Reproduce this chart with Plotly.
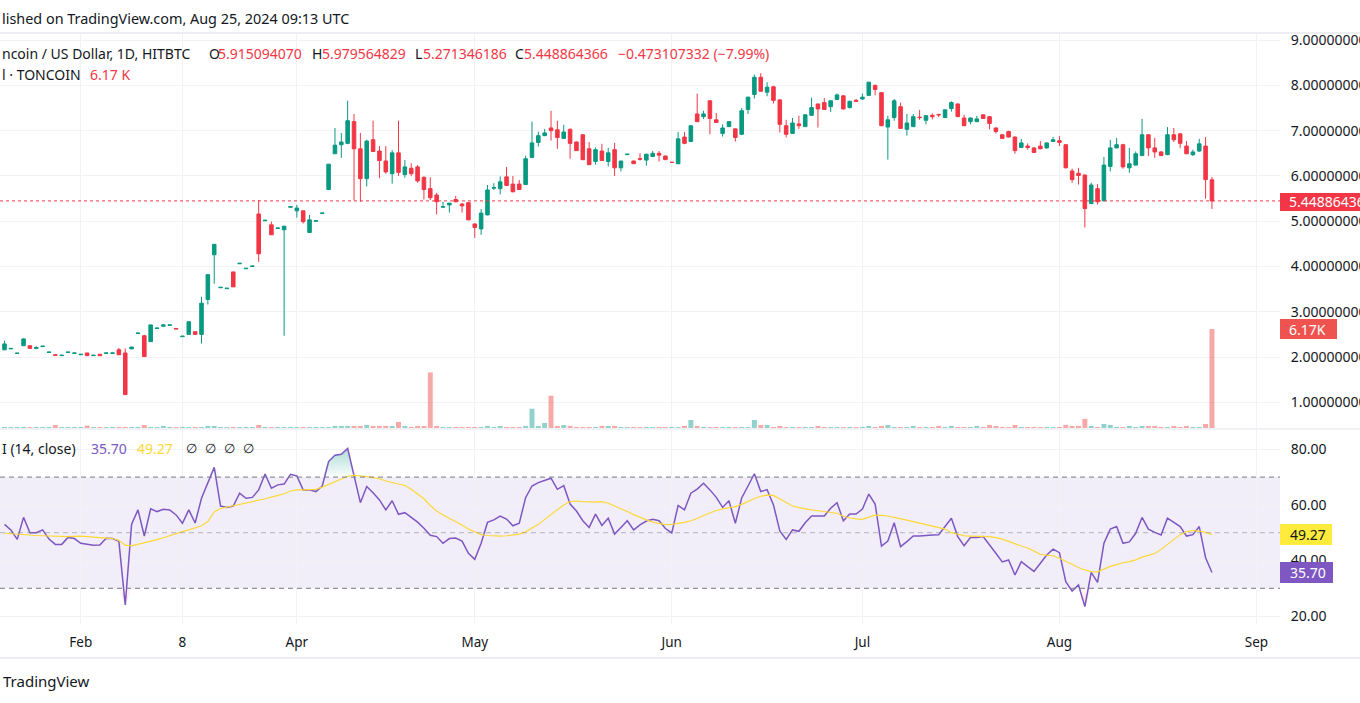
import numpy as np
import plotly.graph_objects as go

# ---------------- data ----------------
open_ = [2.16,2.18,2.08,2.25,2.25,2.19,2.23,2.10,2.05,2.03,2.10,2.08,2.05,2.09,2.03,2.06,2.08,2.08,2.16,2.09,
         2.18,2.52,2.47,2.34,2.63,2.68,2.70,2.63,2.45,2.50,2.56,2.50,3.27,4.26,3.53,3.51,3.88,4.06,3.95,4.00,
         5.16,5.01,4.92,4.84,4.81,5.31,5.23,5.23,4.75,5.00,5.17,5.70,6.49,6.69,6.72,7.20,6.60,5.94,6.80,6.55,
         6.33,6.05,6.51,6.03,6.17,6.20,5.97,5.72,5.58,5.31,5.36,5.48,5.38,5.41,4.94,4.83,5.14,5.73,5.72,5.98,
         5.82,5.82,5.81,6.41,6.74,6.89,7.06,7.02,6.83,7.03,6.75,6.91,6.60,6.32,6.55,6.32,6.58,6.18,6.47,6.33,
         6.38,6.35,6.43,6.50,6.44,6.30,6.27,6.86,6.76,7.37,7.31,7.66,7.24,6.94,7.09,7.04,6.92,7.47,7.80,8.18,
         7.85,7.97,7.68,7.11,6.94,7.15,7.09,7.34,7.59,7.62,7.53,7.69,7.77,7.51,7.67,7.70,7.78,8.00,7.84,7.08,
         7.29,7.53,7.03,7.09,7.30,7.23,7.34,7.36,7.29,7.49,7.59,7.28,7.20,7.20,7.35,7.31,7.06,6.91,6.98,6.86,
         6.63,6.66,6.62,6.66,6.62,6.76,6.78,6.69,6.11,6.06,6.02,5.39,5.72,5.45,6.21,6.62,6.69,6.18,6.24,6.45,
         6.91,6.62,6.53,6.47,6.91,6.93,6.66,6.47,6.55,6.66,5.915094070]
high = [2.36,2.20,2.09,2.41,2.25,2.24,2.24,2.11,2.05,2.04,2.11,2.09,2.06,2.09,2.04,2.07,2.09,2.09,2.20,2.19,
        2.23,2.53,2.49,2.71,2.64,2.73,2.71,2.63,2.46,2.78,2.56,3.33,3.82,4.49,3.54,3.52,3.88,4.07,3.96,4.01,
        5.47,5.03,4.99,4.85,4.89,5.33,5.36,5.23,5.14,5.01,5.19,6.26,7.06,6.95,7.66,7.37,6.95,6.80,7.22,6.66,
        6.66,6.57,7.22,6.35,6.28,6.24,5.99,5.97,5.63,5.43,5.40,5.56,5.40,5.42,4.95,5.27,5.80,5.84,5.99,6.20,
        6.00,5.91,6.45,7.20,6.98,7.04,7.44,7.22,7.13,7.05,6.76,6.92,6.75,6.63,6.71,6.62,6.73,6.33,6.49,6.34,
        6.50,6.49,6.55,6.55,6.45,6.31,6.97,6.97,7.11,7.82,7.44,7.67,7.39,7.14,7.21,7.05,7.50,7.75,8.24,8.27,
        8.07,7.99,7.70,7.24,7.28,7.33,7.36,7.73,7.60,7.72,7.67,7.82,7.78,7.66,7.70,7.82,8.08,8.02,7.85,7.33,
        7.70,7.62,7.37,7.37,7.46,7.34,7.38,7.37,7.47,7.65,7.60,7.35,7.29,7.33,7.36,7.32,7.07,6.92,7.00,6.87,
        6.82,6.72,6.63,6.77,6.74,6.86,6.88,6.70,6.16,6.18,6.03,5.85,5.82,6.42,6.80,6.84,6.71,6.62,6.54,7.26,
        6.92,6.84,6.55,7.08,7.06,6.94,6.77,6.58,6.82,6.86,5.979564829]
low = [2.15,2.18,2.07,2.25,2.19,2.19,2.23,2.10,2.04,2.03,2.10,2.08,2.05,2.03,2.03,2.03,2.08,2.08,2.05,1.17,
       2.18,2.52,2.01,2.34,2.63,2.68,2.70,2.62,2.45,2.50,2.50,2.30,3.16,3.62,3.53,3.51,3.55,4.06,3.95,4.00,
       4.10,5.01,4.70,4.84,2.47,5.31,5.08,4.95,4.75,5.00,5.17,5.70,6.49,6.40,6.70,5.46,5.43,5.77,6.54,5.95,
       6.05,5.83,6.00,5.96,6.00,5.85,5.48,5.47,5.15,5.31,5.19,5.42,5.19,5.02,4.63,4.70,5.13,5.69,5.59,5.78,
       5.64,5.69,5.80,6.39,6.65,6.88,6.78,6.60,6.82,6.38,6.55,6.35,6.24,6.25,6.33,6.21,6.00,6.10,6.47,6.27,
       6.34,6.23,6.42,6.32,6.36,6.29,6.26,6.70,6.75,7.19,7.26,6.92,7.17,6.87,7.08,6.76,6.90,7.37,7.71,7.87,
       7.76,7.60,6.96,6.85,6.93,7.04,7.08,7.33,7.07,7.46,7.41,7.68,7.47,7.49,7.64,7.68,7.77,7.78,7.10,6.36,
       7.22,7.04,6.89,7.08,7.24,7.14,7.25,7.30,7.28,7.42,7.30,7.10,7.14,7.19,7.26,7.03,6.94,6.82,6.85,6.49,
       6.62,6.58,6.51,6.59,6.60,6.75,6.66,6.17,5.85,5.81,4.86,5.38,5.37,5.44,6.10,6.61,6.16,6.07,6.23,6.44,
       6.44,6.40,6.44,6.46,6.75,6.61,6.48,6.44,6.53,5.50,5.271346186]
close = [2.29,2.19,2.085,2.40,2.19,2.21,2.24,2.11,2.04,2.04,2.11,2.09,2.06,2.03,2.04,2.03,2.09,2.09,2.05,1.17,
         2.22,2.53,2.01,2.71,2.64,2.71,2.71,2.62,2.46,2.78,2.50,3.19,3.82,4.49,3.54,3.52,3.55,4.07,3.96,4.01,
         4.28,5.02,4.70,4.85,4.89,5.32,5.29,4.99,5.03,5.01,5.18,6.26,6.68,6.75,7.22,6.60,5.94,6.77,6.54,6.34,
         6.09,6.51,6.08,6.20,6.05,5.89,5.70,5.52,5.43,5.32,5.40,5.43,5.34,5.03,4.86,5.18,5.69,5.74,5.87,5.79,
         5.65,5.70,6.38,6.73,6.89,6.95,7.00,6.85,6.97,6.72,6.56,6.36,6.25,6.58,6.34,6.51,6.18,6.33,6.48,6.27,
         6.37,6.48,6.50,6.46,6.36,6.30,6.82,6.72,7.11,7.20,7.37,7.27,7.18,7.06,7.20,6.85,7.44,7.74,8.18,7.87,
         7.96,7.67,7.14,6.92,7.17,7.11,7.35,7.51,7.48,7.47,7.66,7.79,7.48,7.65,7.65,7.74,8.07,7.91,7.11,7.24,
         7.66,7.05,7.17,7.31,7.29,7.33,7.31,7.35,7.46,7.62,7.31,7.11,7.28,7.26,7.27,7.16,6.98,6.83,6.86,6.56,
         6.73,6.63,6.52,6.60,6.73,6.80,6.74,6.18,5.92,6.01,5.28,5.80,5.43,6.24,6.62,6.69,6.20,6.27,6.49,6.91,
         6.62,6.53,6.45,6.91,6.80,6.72,6.49,6.53,6.71,5.92,5.448864366]
volume = [65,60,65,70,60,65,60,65,190,60,65,60,65,150,60,65,60,65,70,65,
          60,65,190,65,60,130,65,60,65,60,65,60,130,130,65,60,65,60,65,60,
          190,65,60,65,60,65,60,65,60,65,60,65,130,130,130,130,130,190,130,130,
          130,130,380,130,65,130,130,3460,130,65,60,65,60,65,60,65,130,60,130,65,
          60,65,130,1200,130,315,2010,130,190,130,65,60,65,60,130,130,130,65,60,65,
          60,65,60,65,60,65,60,130,500,130,65,60,65,60,65,60,65,60,500,190,
          190,65,130,60,65,60,65,60,130,65,60,65,60,65,60,65,130,60,130,190,
          65,60,65,130,60,65,60,130,65,130,60,65,60,130,65,190,130,65,60,190,
          65,60,65,60,65,60,65,190,130,130,570,130,65,250,190,65,60,130,65,130,
          130,130,65,60,130,65,130,60,65,250,6170]
rsi = [53.0,51.0,47.6,55.5,50.0,50.0,51.0,47.7,45.8,45.8,48.3,47.9,46.2,45.9,45.5,45.6,48.0,47.9,46.9,24.0,
       53.1,58.2,48.8,58.6,57.6,58.4,58.2,56.4,53.4,58.2,53.5,62.4,67.8,73.5,59.6,59.1,59.6,64.2,62.4,62.7,
       65.4,71.1,66.0,67.2,67.5,71.0,70.4,65.4,65.4,64.8,66.8,75.6,77.9,78.2,80.3,70.2,60.8,66.6,64.4,61.8,
       58.2,61.5,56.6,57.2,55.5,53.8,51.6,49.1,48.6,46.2,47.9,48.1,47.0,42.6,40.4,46.2,53.7,54.6,56.0,54.9,
       52.5,53.4,62.6,66.8,68.0,68.7,69.6,65.6,66.9,60.3,57.8,54.3,51.9,56.7,52.6,55.2,49.5,51.9,54.3,51.0,
       52.8,54.2,54.8,54.3,51.5,49.9,59.8,58.2,64.2,65.7,67.8,65.4,62.7,59.1,61.5,53.4,62.5,66.8,71.2,64.8,
       65.5,60.0,50.6,47.6,51.0,50.5,53.6,56.0,56.0,56.0,58.8,60.8,54.3,56.7,56.7,58.5,63.9,60.3,45.2,47.0,
       53.6,45.0,46.8,48.8,48.8,49.1,49.2,49.3,52.2,55.2,48.6,45.3,48.3,48.3,48.6,45.8,42.6,39.5,40.2,34.8,
       39.6,37.8,36.1,39.0,42.0,44.1,42.8,32.4,29.0,31.2,23.4,35.7,32.1,46.2,51.3,52.2,46.2,46.7,49.8,55.5,
       51.3,50.1,49.2,55.2,53.6,52.2,48.8,49.3,52.2,41.0,35.70]
rsi_ma = [49.8,49.6,49.5,49.4,49.2,49.0,48.9,48.8,48.7,48.6,48.6,48.7,48.8,48.6,48.4,48.3,48.1,47.9,47.2,45.5,
          45.3,45.8,46.4,46.8,47.5,48.2,49.0,49.7,50.4,51.0,51.7,52.5,54.0,57.5,58.7,59.2,59.6,60.0,60.5,61.0,
          61.5,62.2,62.8,63.4,64.0,65.0,65.4,65.4,65.4,65.6,66.4,67.4,68.2,69.2,70.3,70.6,70.5,70.2,69.8,69.4,
          68.6,68.1,67.6,67.0,65.6,63.8,62.2,59.8,57.8,56.4,55.2,54.0,52.8,51.3,50.2,49.3,49.0,48.8,48.8,48.9,
          49.1,49.5,50.3,51.5,53.0,54.8,56.5,58.2,60.0,61.2,61.4,61.2,61.0,61.0,61.2,60.6,59.6,58.7,57.6,56.5,
          55.5,54.6,53.8,53.3,52.9,53.0,53.3,53.7,54.3,55.1,56.2,57.2,58.0,58.6,59.0,59.4,60.2,61.4,62.3,63.1,
          63.5,63.4,62.2,60.8,59.6,59.0,58.5,58.2,57.9,57.6,57.3,57.0,55.9,55.3,55.0,54.8,55.6,56.3,56.2,56.0,
          55.5,54.9,54.5,54.0,53.4,52.8,52.2,51.8,51.3,50.0,49.5,48.9,48.8,48.8,48.7,48.6,48.2,47.7,46.9,46.0,
          45.2,44.5,43.4,42.2,41.9,41.7,40.8,39.6,38.4,37.5,36.6,36.0,35.9,36.8,37.9,38.5,39.2,39.6,40.2,41.2,
          41.8,42.5,44.0,45.8,47.6,49.3,50.4,50.8,50.6,50.1,49.27]

month_idx = [12, 28, 46, 74, 105, 135, 166, 197]
month_labels = ["Feb", "8", "Apr", "May", "Jun", "Jul", "Aug", "Sep"]
price_ticks = [1, 2, 3, 4, 5, 6, 7, 8, 9]
rsi_ticks = [20, 40, 60, 80]
last_close = 5.448864366
last_volume_label = "6.17K"

# ---------------- styling ----------------
W, H = 1360, 703
FONT = "'Noto Sans', 'Open Sans', Roboto, sans-serif"
TXT = "#131722"
GREEN = "#089981"
RED = "#f23645"
PURPLE = "#7e57c2"
YELLOW = "#fdd835"
GRID = "#f0f2f6"
PLOT_R = 1280  # right edge of the panes in px


def px(x):
    return x / W


def py(y):
    return 1 - y / H


idx = np.arange(len(close))
xr = [-4.5 / 6.355, (PLOT_R - 4.5) / 6.355]

fig = go.Figure()

# volume (overlay scale)
vol_colors = ["rgba(38,166,154,0.5)" if c >= o else "rgba(239,83,80,0.5)" for o, c in zip(open_, close)]
fig.add_trace(go.Bar(x=idx, y=volume, marker=dict(color=vol_colors, line=dict(width=0)), width=0.78,
                     xaxis="x", yaxis="y2", hoverinfo="skip"))

# candles
fig.add_trace(go.Candlestick(x=idx, open=open_, high=high, low=low, close=close,
                             increasing=dict(line=dict(color=GREEN, width=1), fillcolor=GREEN),
                             decreasing=dict(line=dict(color=RED, width=1), fillcolor=RED),
                             whiskerwidth=0, xaxis="x", yaxis="y", hoverinfo="skip"))

# RSI fills
rsi_arr = np.array(rsi)
fig.add_trace(go.Scatter(x=idx, y=[70] * len(idx), mode="lines", line=dict(width=0, color="rgba(0,0,0,0)"),
                         xaxis="x2", yaxis="y3", hoverinfo="skip"))
fig.add_trace(go.Scatter(x=idx, y=np.maximum(rsi_arr, 70), mode="lines", line=dict(width=0, color="rgba(0,0,0,0)"),
                         fill="tonexty",
                         fillgradient=dict(type="vertical", start=70, stop=84,
                                           colorscale=[[0, "rgba(8,153,129,0.02)"], [1, "rgba(8,153,129,0.45)"]]),
                         xaxis="x2", yaxis="y3", hoverinfo="skip"))
fig.add_trace(go.Scatter(x=idx, y=[30] * len(idx), mode="lines", line=dict(width=0, color="rgba(0,0,0,0)"),
                         xaxis="x2", yaxis="y3", hoverinfo="skip"))
fig.add_trace(go.Scatter(x=idx, y=np.minimum(rsi_arr, 30), mode="lines", line=dict(width=0, color="rgba(0,0,0,0)"),
                         fill="tonexty",
                         fillgradient=dict(type="vertical", start=16, stop=30,
                                           colorscale=[[0, "rgba(242,54,69,0.45)"], [1, "rgba(242,54,69,0.02)"]]),
                         xaxis="x2", yaxis="y3", hoverinfo="skip"))
# RSI line and its MA
fig.add_trace(go.Scatter(x=idx, y=rsi, mode="lines", line=dict(color=PURPLE, width=1.5),
                         xaxis="x2", yaxis="y3", hoverinfo="skip"))
fig.add_trace(go.Scatter(x=idx, y=rsi_ma, mode="lines", line=dict(color=YELLOW, width=1.2),
                         xaxis="x2", yaxis="y3", hoverinfo="skip"))

price_dom = [py(428), py(33)]
rsi_dom = [py(624), py(430)]
p_per_px = 1 / 45.27
price_range = [1 + (402.3 - 428) * p_per_px, 1 + (402.3 - 33) * p_per_px]
rsi_range = [80 - (624 - 449.3) / 2.78, 80 + (449.3 - 430) / 2.78]
vol_top = 6170 * (428 - 33) / 99.0

axis_font = dict(family=FONT, size=14, color=TXT)
x_font = dict(family=FONT, size=13.5, color=TXT)
fig.update_layout(
    width=W, height=H, autosize=False,
    margin=dict(l=0, r=0, t=0, b=0, pad=0, autoexpand=False),
    paper_bgcolor="white", plot_bgcolor="white",
    showlegend=False, hovermode=False,
    boxgap=0.2, bargap=0.2,
    font=dict(family=FONT, color=TXT),
    xaxis=dict(domain=[0, px(PLOT_R)], range=xr, anchor="y", showticklabels=False, automargin=False,
               tickmode="array", tickvals=month_idx, showgrid=True, gridcolor=GRID, gridwidth=1,
               zeroline=False, showline=False, rangeslider=dict(visible=False), fixedrange=True),
    yaxis=dict(domain=price_dom, range=price_range, side="right", anchor="x", automargin=False,
               tickmode="array", tickvals=price_ticks, tickformat=".8f",
               ticks="outside", ticklen=7, tickcolor="rgba(0,0,0,0)",
               tickfont=axis_font, showgrid=True, gridcolor=GRID, zeroline=False, showline=False),
    yaxis2=dict(overlaying="y", range=[0, vol_top], visible=False, side="left", automargin=False),
    xaxis2=dict(domain=[0, px(PLOT_R)], range=xr, anchor="y3", matches="x", automargin=False,
                tickmode="array", tickvals=month_idx, ticktext=month_labels,
                ticks="outside", ticklen=6, tickcolor="rgba(0,0,0,0)", tickfont=x_font,
                showgrid=True, gridcolor=GRID, zeroline=False, showline=False),
    yaxis3=dict(domain=rsi_dom, range=rsi_range, side="right", anchor="x2", automargin=False,
                tickmode="array", tickvals=rsi_ticks, tickformat=".2f",
                ticks="outside", ticklen=7, tickcolor="rgba(0,0,0,0)",
                tickfont=axis_font, showgrid=True, gridcolor=GRID, zeroline=False, showline=False),
)

shapes = []
# separators
for yy, w, col in [(33, 2, "#eceef3"), (429, 1, "#e0e3eb"), (658, 2, "#eceef3")]:
    shapes.append(dict(type="line", xref="paper", yref="paper", x0=0, x1=1, y0=py(yy), y1=py(yy),
                       line=dict(color=col, width=w)))
# RSI band and levels
shapes.append(dict(type="rect", xref="x2 domain", yref="y3", x0=0, x1=1, y0=30, y1=70,
                   fillcolor="rgba(126,87,194,0.1)", line=dict(width=0), layer="below"))
for lvl, col in [(70, "#787b86"), (30, "#787b86"), (50, "rgba(120,123,134,0.5)")]:
    shapes.append(dict(type="line", xref="x2 domain", yref="y3", x0=0, x1=1, y0=lvl, y1=lvl,
                       line=dict(color=col, width=1, dash="5px,4px")))
# last price dotted line
shapes.append(dict(type="line", xref="x domain", yref="y", x0=0, x1=1, y0=last_close, y1=last_close,
                   line=dict(color=RED, width=1, dash="dot")))
# right-hand labels (boxes)
label_boxes = [
    (193, 211, 1360, RED),
    (319, 339, 1337, "#ef5350"),
    (524, 545, 1332, "#ffeb3b"),
    (562, 583, 1333, PURPLE),
]
for y0, y1, x1, col in label_boxes:
    shapes.append(dict(type="rect", xref="paper", yref="paper", x0=px(PLOT_R), x1=px(x1),
                       y0=py(y1), y1=py(y0), fillcolor=col, line=dict(width=0)))
fig.update_layout(shapes=shapes)

ann = []


def text(x, y, s, color=TXT, size=14):
    ann.append(dict(x=px(x), y=py(y), xref="paper", yref="paper", text=s, showarrow=False,
                    xanchor="left", yanchor="middle", font=dict(family=FONT, size=size, color=color)))


text(0, 19, "lished on TradingView.com, Aug 25, 2024 09:13 UTC", size=14.4)
text(0, 53, "ncoin / US Dollar, 1D, HITBTC")
text(207, 53, "O")
text(216, 53, "5.915094070", RED)
text(310, 53, "H")
text(320, 53, "5.979564829", RED)
text(413, 53, "L")
text(421, 53, "5.271346186", RED)
text(513, 53, "C")
text(522, 53, "5.448864366", RED)
text(616, 53, "−0.473107332 (−7.99%)", RED)
text(0, 74, "l · TONCOIN")
text(88, 74, "6.17 K", RED)
text(0, 448, "I (14, close)")
text(89, 448, "35.70", PURPLE)
text(135, 448, "49.27", YELLOW)
for xx in [184, 203, 222, 241]:
    text(xx, 448, "∅", size=13)
text(1, 681, "TradingView", size=15)
# axis value labels
text(1287, 202, "5.44886436", "white")
text(1287, 329, last_volume_label, "white")
text(1288, 534.5, "49.27", TXT)
text(1288, 572.5, "35.70", "white")
fig.update_layout(annotations=ann)

fig.write_html("out.html", config={"displayModeBar": False, "staticPlot": True},
               post_script="document.body.style.margin='0';document.body.style.overflow='hidden';")
